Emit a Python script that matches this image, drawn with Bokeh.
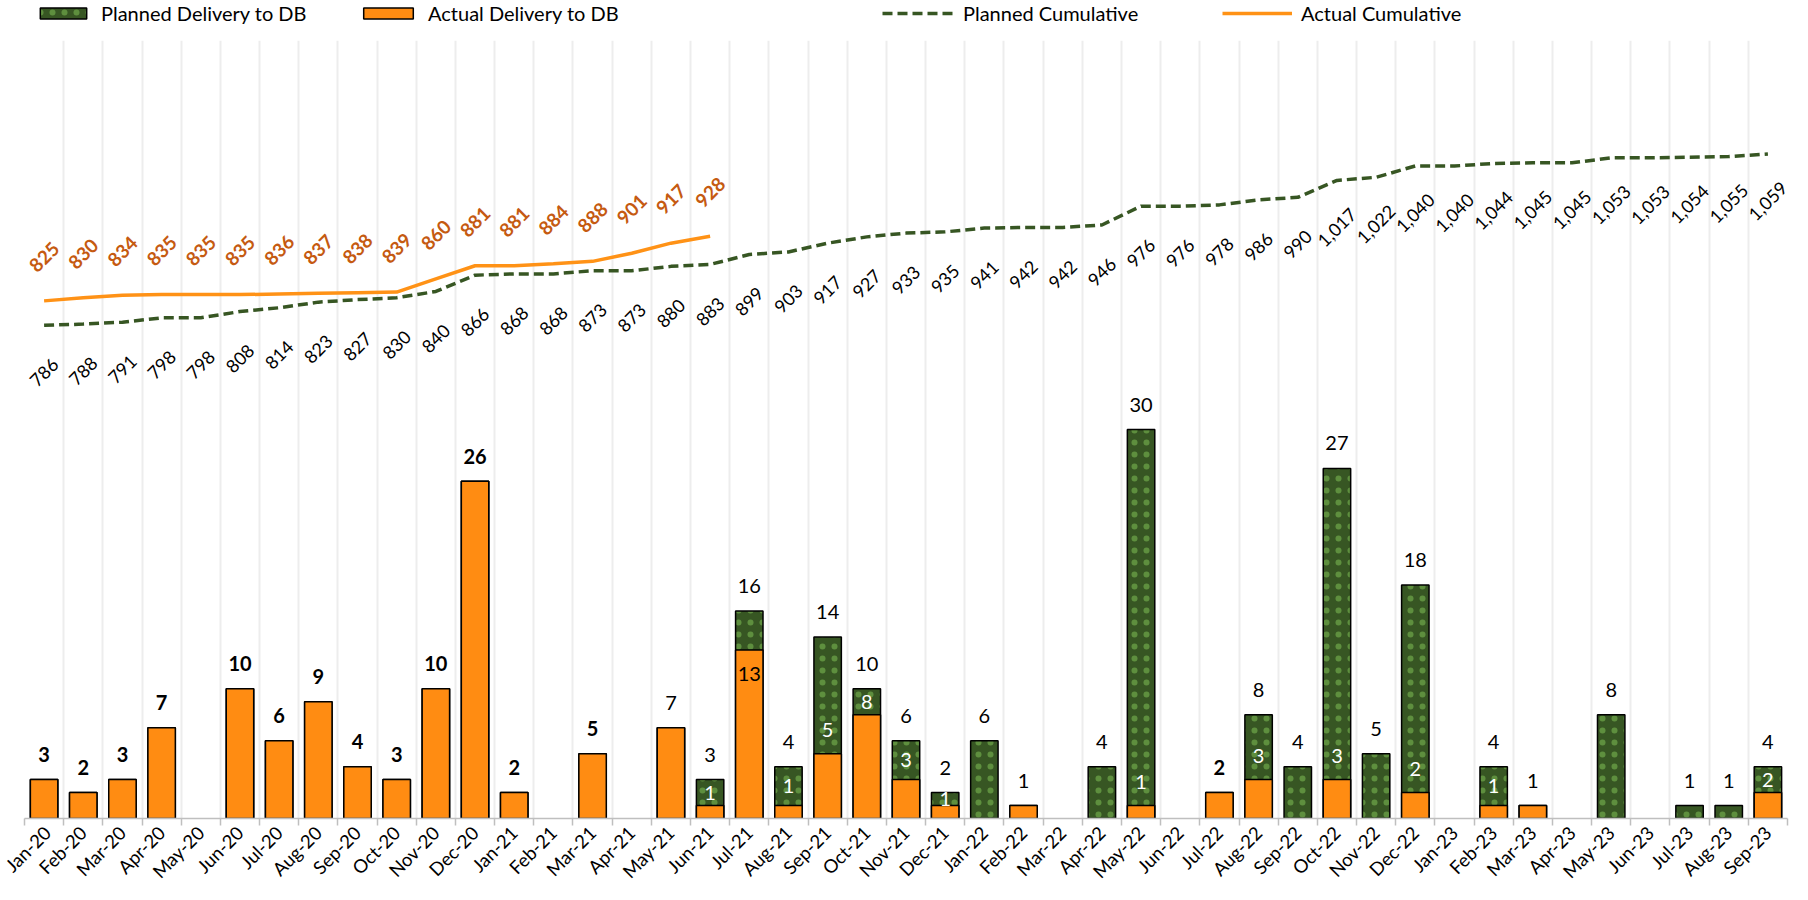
import math
import numpy as np
from bokeh.plotting import figure
from bokeh.layouts import column
from bokeh.models import (Range1d, FixedTicker, ColumnDataSource, Legend, LegendItem,
                          CustomJSTickFormatter)
from bokeh.core.properties import value
from bokeh.embed import file_html
from bokeh.resources import INLINE

months = ["Jan-20", "Feb-20", "Mar-20", "Apr-20", "May-20", "Jun-20", "Jul-20", "Aug-20",
          "Sep-20", "Oct-20", "Nov-20", "Dec-20", "Jan-21", "Feb-21", "Mar-21", "Apr-21",
          "May-21", "Jun-21", "Jul-21", "Aug-21", "Sep-21", "Oct-21", "Nov-21", "Dec-21",
          "Jan-22", "Feb-22", "Mar-22", "Apr-22", "May-22", "Jun-22", "Jul-22", "Aug-22",
          "Sep-22", "Oct-22", "Nov-22", "Dec-22", "Jan-23", "Feb-23", "Mar-23", "Apr-23",
          "May-23", "Jun-23", "Jul-23", "Aug-23", "Sep-23"]

planned = [3, 2, 3, 7, 0, 10, 6, 9, 4, 3, 10, 26,
           2, 0, 5, 0, 7, 3, 16, 4, 14, 10, 6, 2,
           6, 1, 0, 4, 30, 0, 2, 8, 4, 27, 5, 18,
           0, 4, 1, 0, 8, 0, 1, 1, 4]

actual = [3, 2, 3, 7, 0, 10, 6, 9, 4, 3, 10, 26,
          2, 0, 5, 0, 7, 1, 13, 1, 5, 8, 3, 1,
          0, 1, 0, 0, 1, 0, 2, 3, 0, 3, 0, 2,
          0, 1, 1, 0, 0, 0, 0, 0, 2]

planned_cum = [786, 788, 791, 798, 798, 808, 814, 823, 827, 830, 840, 866,
               868, 868, 873, 873, 880, 883, 899, 903, 917, 927, 933, 935,
               941, 942, 942, 946, 976, 976, 978, 986, 990, 1017, 1022, 1040,
               1040, 1044, 1045, 1045, 1053, 1053, 1054, 1055, 1059]

actual_cum = [825, 830, 834, 835, 835, 835, 836, 837, 838, 839, 860, 881,
              881, 884, 888, 901, 917, 928]

bold_label_months = ["Jan-20", "Feb-20", "Mar-20", "Apr-20", "Jun-20", "Jul-20", "Aug-20",
                     "Sep-20", "Oct-20", "Nov-20", "Dec-20", "Jan-21", "Mar-21", "Jul-22"]

series_names = ["Planned Delivery to DB", "Actual Delivery to DB",
                "Planned Cumulative", "Actual Cumulative"]

FONT = "Lato"
GREEN = "#375623"
ORANGE = "#FF8C12"
LINE_ORANGE = "#FF9216"
LABEL_ORANGE = "#C55A11"
LBL = "20px"
NAN = float("nan")
bar_style = dict(line_color="black", line_width=1.5)
green_style = dict(fill_color=GREEN, hatch_pattern="dot", hatch_color="#5E8F3E",
                   hatch_scale=12, hatch_weight=0.6, **bar_style)
orange_style = dict(fill_color=ORANGE, **bar_style)
pc_style = dict(line_color=GREEN, line_width=3.5, line_dash="10 5")
ac_style = dict(line_color=LINE_ORANGE, line_width=3.5)

n = len(months)
xc = [i + 0.5 for i in range(n)]

p = figure(frame_width=1763, frame_height=778, x_range=Range1d(0, n), y_range=Range1d(0, 60),
           output_backend="svg", toolbar_location=None, y_axis_location=None,
           min_border_left=24, min_border_right=5, min_border_top=0, min_border_bottom=0)
p.extra_y_ranges = {"cum": Range1d(0, 1240)}
p.outline_line_color = None

# grid at category boundaries
p.xgrid.ticker = FixedTicker(ticks=list(range(n + 1)))
p.xgrid.grid_line_color = "#EDEDED"
p.xgrid.grid_line_width = 2
p.ygrid.visible = False

ax = p.xaxis[0]
ax.ticker = FixedTicker(ticks=xc, minor_ticks=list(range(n + 1)))
ax.formatter = CustomJSTickFormatter(args=dict(labels=months),
                                     code="return labels[Math.floor(tick)];")
ax.major_tick_out = 0
ax.major_tick_in = 0
ax.minor_tick_out = 7
ax.minor_tick_in = 0
ax.minor_tick_line_color = "#BFBFBF"
ax.minor_tick_line_width = 1.5
ax.axis_line_color = "#BFBFBF"
ax.axis_line_width = 1.5
ax.major_label_orientation = math.pi / 4
ax.major_label_text_font = FONT
ax.major_label_text_font_size = "18.5px"
ax.major_label_text_color = "black"
ax.major_label_standoff = 4

# bars
pl_src = ColumnDataSource(dict(x=[xc[i] for i in range(n) if planned[i] > 0],
                               top=[planned[i] for i in range(n) if planned[i] > 0]))
ac_src = ColumnDataSource(dict(x=[xc[i] for i in range(n) if actual[i] > 0],
                               top=[actual[i] for i in range(n) if actual[i] > 0]))
p.vbar(x="x", top="top", width=0.7, source=pl_src, **green_style)
p.vbar(x="x", top="top", width=0.7, source=ac_src, **orange_style)

# cumulative lines
p.line(xc, planned_cum, y_range_name="cum", **pc_style)
p.line(xc[:len(actual_cum)], actual_cum, y_range_name="cum", **ac_style)

# top labels of planned bars
for bold in (True, False):
    idx = [i for i in range(n) if planned[i] > 0 and ((months[i] in bold_label_months) == bold)]
    p.text([xc[i] for i in idx], [planned[i] for i in idx], text=[str(planned[i]) for i in idx],
           text_align="center", text_baseline="middle", y_offset=-25,
           text_font=value(FONT), text_font_size=LBL,
           text_font_style="bold" if bold else "normal", text_color="black")

# labels of actual values inside planned bars
unit_px = 13.0
out_i = [i for i in range(n) if 0 < actual[i] < planned[i] and actual[i] < 10]
p.text([xc[i] for i in out_i],
       [actual[i] + min(24 / unit_px, (planned[i] - actual[i]) / 2) for i in out_i],
       text=[str(actual[i]) for i in out_i], text_align="center", text_baseline="middle",
       text_font=value(FONT), text_font_size=LBL, text_color="white")
in_i = [i for i in range(n) if 0 < actual[i] < planned[i] and actual[i] >= 10]
p.text([xc[i] for i in in_i], [actual[i] - 24 / unit_px for i in in_i],
       text=[str(actual[i]) for i in in_i], text_align="center", text_baseline="middle",
       text_font=value(FONT), text_font_size=LBL, text_color="black")

# cumulative labels
p.text(xc, planned_cum, y_range_name="cum", text=[f"{v:,}" for v in planned_cum],
       angle=math.pi / 4, text_align="center", text_baseline="middle", y_offset=47,
       text_font=value(FONT), text_font_size="18px", text_color="black")
p.text(xc[:len(actual_cum)], actual_cum, y_range_name="cum",
       text=[f"{v:,}" for v in actual_cum], angle=math.pi / 4, text_align="center",
       text_baseline="middle", y_offset=-44, text_font=value(FONT), text_font_size="19px",
       text_font_style="bold", text_color=LABEL_ORANGE)

# legend strip above the chart (sample renderers hold no drawable data)
lf = figure(width=1792, height=40, x_range=Range1d(0, 1), y_range=Range1d(0, 1),
            output_backend="svg", toolbar_location=None, x_axis_location=None,
            y_axis_location=None, min_border=0)
lf.outline_line_color = None
lf.grid.visible = False
r1 = lf.vbar(x=[NAN], top=[NAN], width=0.1, **green_style)
r2 = lf.vbar(x=[NAN], top=[NAN], width=0.1, **orange_style)
r3 = lf.line(x=[NAN, NAN], y=[NAN, NAN], **pc_style)
r4 = lf.line(x=[NAN, NAN], y=[NAN, NAN], **ac_style)
legend_x = [10, 333, 858, 1198]
legend_glyph_w = [58, 62, 72, 70]
for k, r in enumerate([r1, r2, r3, r4]):
    lg = Legend(items=[LegendItem(label=series_names[k], renderers=[r])],
                orientation="horizontal", location=(legend_x[k], 15),
                glyph_width=legend_glyph_w[k], glyph_height=14, label_standoff=9,
                padding=0, margin=0, border_line_color=None, background_fill_alpha=0,
                label_text_font=FONT, label_text_font_size="20px", label_text_color="black")
    lf.add_layout(lg, "center")

layout = column(lf, p, spacing=0)
open("out.html", "w").write(file_html(layout, INLINE))
